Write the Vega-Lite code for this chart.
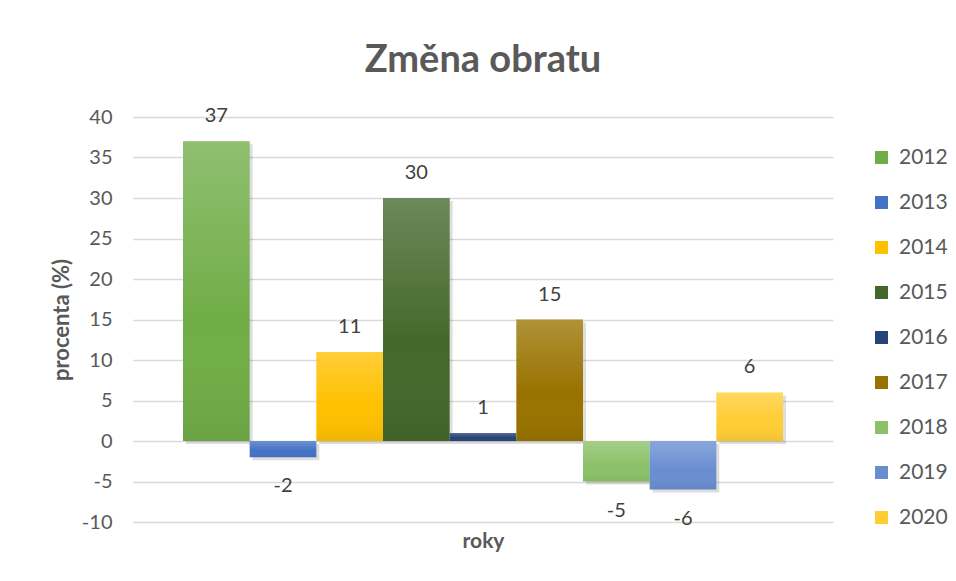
{
  "$schema": "https://vega.github.io/schema/vega-lite/v6.json",
  "width": 700,
  "height": 405,
  "autosize": {"type": "none"},
  "padding": {"left": 133, "top": 117, "right": 123, "bottom": 59},
  "background": "white",
  "title": {"text": "Změna obratu", "font": "Lato", "fontSize": 38, "fontWeight": "bold", "color": "#595959", "anchor": "middle", "offset": 26},
  "config": {"view": {"stroke": null}, "font": "Lato"},
  "data": {"values": [
    {"rok": "2012", "hodnota": 37},
    {"rok": "2013", "hodnota": -2},
    {"rok": "2014", "hodnota": 11},
    {"rok": "2015", "hodnota": 30},
    {"rok": "2016", "hodnota": 1},
    {"rok": "2017", "hodnota": 15},
    {"rok": "2018", "hodnota": -5},
    {"rok": "2019", "hodnota": -6},
    {"rok": "2020", "hodnota": 6}
  ]},
  "encoding": {
    "x": {"field": "rok", "type": "nominal", "sort": null,
      "scale": {"paddingInner": 0, "paddingOuter": 0.75},
      "axis": {"title": "roky", "labels": false, "ticks": false, "domain": false, "grid": false,
        "titleFont": "Lato", "titleFontSize": 21, "titleFontWeight": "bold", "titleColor": "#595959", "titlePadding": 8}},
    "y": {"field": "hodnota", "type": "quantitative",
      "scale": {"domain": [-10, 40], "nice": false},
      "axis": {"values": [-10, -5, 0, 5, 10, 15, 20, 25, 30, 35, 40], "title": "procenta (%)", "labelExpr": "'' + datum.value",
        "domain": false, "ticks": false, "labelFont": "Lato", "labelFontSize": 20, "labelColor": "#595959", "labelPadding": 21,
        "gridColor": "#d9d9d9", "gridWidth": 1.5,
        "titleFont": "Lato", "titleFontSize": 22, "titleFontWeight": "bold", "titleColor": "#595959", "titlePadding": 8}}
  },
  "layer": [
    {
      "mark": {"type": "bar", "fill": "#000000", "opacity": 0.13, "xOffset": 3, "yOffset": 3},
      "encoding": {}
    },
    {
      "mark": {"type": "bar"},
      "encoding": {
        "color": {"field": "rok", "type": "nominal", "sort": null,
          "scale": {"range": ["#70AD47", "#4472C4", "#FFC000", "#43682B", "#264478", "#997300", "#8CC168", "#698ED0", "#FFCD33"]},
          "legend": {"title": null, "orient": "none", "legendX": 738, "legendY": 30, "symbolType": "square", "symbolSize": 169,
            "symbolStrokeWidth": 0, "labelFont": "Lato", "labelFontSize": 21, "labelColor": "#595959", "rowPadding": 23, "labelOffset": 7}}
      }
    },
    {
      "mark": {"type": "bar", "fill": {"gradient": "linear", "x1": 0, "y1": 0, "x2": 0, "y2": 1,
        "stops": [{"offset": 0, "color": "rgba(255,255,255,0.22)"}, {"offset": 0.6, "color": "rgba(255,255,255,0)"}, {"offset": 1, "color": "rgba(0,0,0,0.06)"}]}},
      "encoding": {}
    },
    {
      "transform": [{"filter": "datum.hodnota >= 0"}],
      "mark": {"type": "text", "baseline": "middle", "dy": -25, "font": "Lato", "fontSize": 20, "color": "#404040"},
      "encoding": {"text": {"field": "hodnota", "type": "nominal"}}
    },
    {
      "transform": [{"filter": "datum.hodnota < 0"}],
      "mark": {"type": "text", "baseline": "middle", "dy": 29, "font": "Lato", "fontSize": 20, "color": "#404040"},
      "encoding": {"text": {"field": "hodnota", "type": "nominal"}}
    }
  ]
}
